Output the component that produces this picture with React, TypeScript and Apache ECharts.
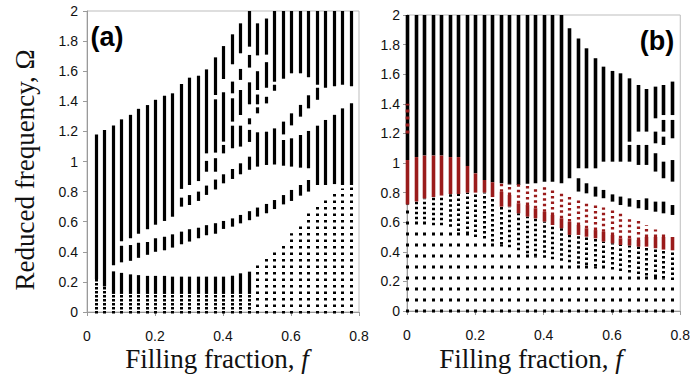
import { useEffect, useRef } from 'react';
import * as echarts from 'echarts';

// ---------- Panel (a): band segments [f, lowOmega, highOmega] ----------
const aBands: number[][] = [
  [0.025, 0.22, 1.18],
  [0.05, 0.17, 1.21],
  [0.075, 0.31, 1.24], [0.075, 0.12, 0.27],
  [0.1, 0.47, 1.28], [0.1, 0.33, 0.44], [0.1, 0.12, 0.26],
  [0.125, 0.49, 1.31], [0.125, 0.34, 0.445], [0.125, 0.12, 0.25],
  [0.15, 0.52, 1.35], [0.15, 0.36, 0.46], [0.15, 0.12, 0.245],
  [0.175, 0.55, 1.375], [0.175, 0.38, 0.465], [0.175, 0.12, 0.24],
  [0.2, 0.58, 1.41], [0.2, 0.4, 0.49], [0.2, 0.12, 0.24],
  [0.225, 0.605, 1.437], [0.225, 0.41, 0.5], [0.225, 0.12, 0.24],
  [0.25, 0.633, 1.453], [0.25, 0.428, 0.516], [0.25, 0.12, 0.235],
  [0.275, 0.818, 1.515], [0.275, 0.7, 0.76], [0.275, 0.45, 0.534], [0.275, 0.12, 0.235],
  [0.3, 0.844, 1.557], [0.3, 0.711, 0.777], [0.3, 0.468, 0.55], [0.3, 0.12, 0.235],
  [0.325, 0.87, 1.57], [0.325, 0.738, 0.8], [0.325, 0.49, 0.56], [0.325, 0.12, 0.235],
  [0.35, 1.054, 1.612], [0.35, 0.932, 1.004], [0.35, 0.778, 0.84], [0.35, 0.51, 0.577], [0.35, 0.12, 0.235],
  [0.375, 1.442, 1.692], [0.375, 1.059, 1.413], [0.375, 0.932, 1.022], [0.375, 0.814, 0.88], [0.375, 0.52, 0.59], [0.375, 0.12, 0.235],
  [0.4, 1.548, 1.767], [0.4, 1.132, 1.46], [0.4, 1.054, 1.11], [0.4, 0.855, 0.915], [0.4, 0.552, 0.605], [0.4, 0.12, 0.235],
  [0.425, 1.646, 1.845], [0.425, 1.453, 1.531], [0.425, 1.265, 1.42], [0.425, 1.088, 1.238], [0.425, 0.884, 0.95], [0.425, 0.567, 0.622], [0.425, 0.12, 0.241],
  [0.45, 1.719, 1.918], [0.45, 1.542, 1.615], [0.45, 1.309, 1.475], [0.45, 1.099, 1.238], [0.45, 0.915, 0.988], [0.45, 0.589, 0.645], [0.45, 0.12, 0.257],
  [0.475, 1.763, 2], [0.475, 1.624, 1.708], [0.475, 1.38, 1.526], [0.475, 1.247, 1.287], [0.475, 1.13, 1.21], [0.475, 0.945, 1.032], [0.475, 0.61, 0.67], [0.475, 0.12, 0.268],
  [0.5, 1.705, 1.918], [0.5, 1.475, 1.6], [0.5, 1.38, 1.445], [0.5, 1.32, 1.36], [0.5, 0.966, 1.194], [0.5, 0.634, 0.694],
  [0.525, 1.71, 1.95], [0.525, 1.49, 1.66], [0.525, 1.386, 1.43], [0.525, 0.977, 1.198], [0.525, 0.656, 0.718],
  [0.55, 1.53, 2], [0.55, 1.47, 1.51], [0.55, 0.98, 1.22], [0.55, 0.684, 0.744],
  [0.575, 1.55, 2], [0.575, 1.18, 1.265], [0.575, 0.972, 1.143], [0.575, 0.715, 0.777],
  [0.6, 1.586, 2], [0.6, 1.24, 1.32], [0.6, 0.966, 1.154], [0.6, 0.738, 0.811],
  [0.625, 1.586, 2], [0.625, 1.298, 1.376], [0.625, 0.959, 1.176], [0.625, 0.773, 0.844],
  [0.65, 1.56, 2], [0.65, 1.353, 1.44], [0.65, 0.955, 1.203], [0.65, 0.8, 0.877],
  [0.675, 1.51, 2], [0.675, 1.41, 1.49], [0.675, 0.844, 1.238],
  [0.7, 1.49, 2], [0.7, 0.844, 1.276],
  [0.725, 1.5, 2], [0.725, 0.85, 1.31],
  [0.75, 1.51, 2], [0.75, 0.844, 1.353],
  [0.775, 1.5, 2], [0.775, 0.844, 1.387],
];

// finely dotted lowest-band parts
const aFineDots: number[][] = [
  [0.025, 0, 0.22], [0.05, 0, 0.17], [0.075, 0, 0.12], [0.1, 0, 0.12], [0.125, 0, 0.12],
  [0.15, 0, 0.12], [0.175, 0, 0.12], [0.2, 0, 0.12], [0.225, 0, 0.12], [0.25, 0, 0.12],
  [0.275, 0, 0.12], [0.3, 0, 0.12], [0.325, 0, 0.12], [0.35, 0, 0.12], [0.375, 0, 0.12],
  [0.4, 0, 0.12], [0.425, 0, 0.12], [0.45, 0, 0.12], [0.475, 0, 0.12],
];

// coarser dotted lowest band at high filling fraction
const aDots: number[][] = [
  [0.5, 0, 0.312], [0.525, 0, 0.361], [0.55, 0, 0.405], [0.575, 0, 0.463],
  [0.6, 0, 0.523], [0.625, 0, 0.589], [0.65, 0, 0.656], [0.675, 0, 0.711],
  [0.7, 0, 0.75], [0.725, 0, 0.79], [0.75, 0, 0.82], [0.775, 0, 0.83],
];

// ---------- Panel (b) ----------
const bF = [0, 0.025, 0.05, 0.075, 0.1, 0.125, 0.15, 0.175, 0.2, 0.225, 0.25, 0.275, 0.3, 0.325, 0.35, 0.375,
  0.4, 0.425, 0.45, 0.475, 0.5, 0.525, 0.55, 0.575, 0.6, 0.625, 0.65, 0.675, 0.7, 0.725, 0.75, 0.775];
const bSparseTop = [0.716, 0.62, 0.62, 0.58, 0.58, 0.57, 0.54, 0.52, 0.5, 0.49, 0.47, 0.45, 0.43, 0.41, 0.39, 0.37,
  0.36, 0.35, 0.34, 0.33, 0.32, 0.31, 0.3, 0.29, 0.28, 0.27, 0.26, 0.25, 0.24, 0.23, 0.22, 0.21];
const bRedLow = [0.72, 0.74, 0.76, 0.77, 0.78, 0.79, 0.79, 0.8, 0.8, 0.8, 0.77, 0.705, 0.705, 0.66, 0.638, 0.626,
  0.604, 0.581, 0.559, 0.514, 0.514, 0.502, 0.491, 0.469, 0.457, 0.446, 0.442, 0.435, 0.435, 0.424, 0.415, 0.41];
const bRedHigh = [1.02, 1.04, 1.05, 1.05, 1.05, 1.04, 1.04, 0.98, 0.93, 0.885, 0.87, 0.806, 0.784, 0.728, 0.716, 0.694,
  0.671, 0.649, 0.626, 0.604, 0.581, 0.559, 0.547, 0.536, 0.514, 0.491, 0.491, 0.48, 0.5, 0.5, 0.5, 0.5];
const bRedDotTop = [0, 0, 0, 0, 0, 0, 0, 0, 0, 0, 0, 0.86, 0.86, 0.86, 0.85, 0.84,
  0.84, 0.83, 0.81, 0.79, 0.76, 0.74, 0.72, 0.7, 0.68, 0.66, 0.63, 0.61, 0.58, 0.55, 0.52, 0];

const bBlack: number[][] = [
  [0, 1.02, 2], [0.025, 1.04, 2], [0.05, 1.05, 2], [0.075, 1.05, 2], [0.1, 1.05, 2], [0.125, 1.04, 2],
  [0.15, 1.04, 2], [0.175, 0.98, 2], [0.2, 0.93, 2], [0.225, 0.885, 2], [0.25, 0.87, 2], [0.275, 0.863, 2],
  [0.3, 0.855, 2], [0.325, 0.851, 2], [0.35, 0.86, 2], [0.375, 0.863, 2], [0.4, 0.874, 2], [0.425, 0.874, 2],
  [0.45, 0.863, 2], [0.475, 0.897, 1.91],
  [0.5, 0.964, 1.842], [0.5, 0.807, 0.897],
  [0.525, 0.964, 1.775], [0.525, 0.795, 0.863],
  [0.55, 0.964, 1.708], [0.55, 0.773, 0.84],
  [0.575, 1.009, 1.651], [0.575, 0.762, 0.818],
  [0.6, 1.009, 1.622], [0.6, 0.739, 0.788],
  [0.625, 1.009, 1.606], [0.625, 0.716, 0.773],
  [0.65, 1.144, 1.572], [0.65, 1.009, 1.122], [0.65, 0.705, 0.761],
  [0.675, 1.212, 1.527], [0.675, 0.987, 1.122], [0.675, 0.694, 0.75],
  [0.7, 1.212, 1.5], [0.7, 0.987, 1.122], [0.7, 0.683, 0.761],
  [0.725, 1.302, 1.516], [0.725, 1.133, 1.212], [0.725, 0.942, 1.066], [0.725, 0.671, 0.739],
  [0.75, 1.324, 1.527], [0.75, 1.212, 1.291], [0.75, 1.122, 1.178], [0.75, 0.897, 1.009], [0.75, 0.66, 0.739],
  [0.775, 1.324, 1.55], [0.775, 1.167, 1.291], [0.775, 0.874, 1.02], [0.775, 0.649, 0.716],
];
const bRedOverlay: number[][] = [[0, 1.2, 1.4]];

const xTicks = { min: 0, max: 0.8, interval: 0.2 };
const yTicks = { min: 0, max: 2, interval: 0.2 };

const RED = '#9a1b1b';
const BLACK = '#000000';

function segRenderer(color: string, dash: number[] | null, width: number) {
  return (_params: any, api: any) => {
    const f = api.value(0);
    const lo = api.value(1);
    const hi = api.value(2);
    const a = api.coord([f, lo]);
    const b = api.coord([f, hi]);
    const off = dash && lo === 0 ? 1.5 : 0;
    const x = Math.round(a[0]) + 0.5;
    return {
      type: 'line',
      shape: { x1: x, y1: a[1] + off, x2: x, y2: b[1] },
      style: { stroke: color, lineWidth: width, lineDash: dash || undefined, lineCap: 'butt', fill: null },
    };
  };
}

function segSeries(data: number[][], grid: number, color: string, dash: number[] | null, width: number) {
  return {
    type: 'custom',
    xAxisIndex: grid,
    yAxisIndex: grid,
    clip: false,
    silent: true,
    renderItem: segRenderer(color, dash, width),
    encode: { x: 0, y: [1, 2] },
    data,
  };
}

export default function App() {
  const ref = useRef<HTMLDivElement>(null);
  useEffect(() => {
    if (!ref.current) return;
    const chart = echarts.init(ref.current, undefined, { renderer: 'svg' });

    const bSparse = bF.map((f, i) => [f, 0, bSparseTop[i]]);
    const bDense = bF.map((f, i) => [f, bSparseTop[i], bRedLow[i]]).filter((d) => d[2] > d[1]);
    const bRed = bF.map((f, i) => [f, bRedLow[i], bRedHigh[i]]);
    const bRedDots = bF.map((f, i) => [f, bRedHigh[i], bRedDotTop[i]]).filter((d) => d[2] > d[1]);

    const axisCommon = {
      axisLine: { show: true, lineStyle: { color: '#9a9a9a', width: 1 } },
      axisTick: { show: true, length: 4, lineStyle: { color: '#9a9a9a' } },
      splitLine: { show: false },
      axisLabel: { color: '#111', fontFamily: 'Liberation Sans, Arial, sans-serif', fontSize: 14 },
    };

    const serif = 'Liberation Serif, Times New Roman, serif';

    chart.setOption({
      animation: false,
      backgroundColor: '#ffffff',
      grid: [
        { left: 87, top: 11, width: 272, height: 301, show: true, borderColor: '#bdbdbd', borderWidth: 1, backgroundColor: 'transparent' },
        { left: 407, top: 15, width: 274, height: 296, show: true, borderColor: '#bdbdbd', borderWidth: 1, backgroundColor: 'transparent' },
      ],
      xAxis: [0, 1].map((g) => ({
        type: 'value', gridIndex: g, ...xTicks, ...axisCommon,
        axisLabel: { ...axisCommon.axisLabel, margin: 17 },
      })),
      yAxis: [0, 1].map((g) => ({
        type: 'value', gridIndex: g, ...yTicks, ...axisCommon,
        axisLabel: { ...axisCommon.axisLabel, margin: g === 0 ? 9 : 7 },
      })),
      series: [
        segSeries(aBands, 0, BLACK, null, 3.2),
        segSeries(aFineDots, 0, BLACK, [2.5, 1.5], 3),
        segSeries(aDots, 0, BLACK, [2.5, 4], 3),
        segSeries(bSparse, 1, BLACK, [3, 8], 3),
        segSeries(bDense, 1, BLACK, [2.5, 2.5], 3),
        segSeries(bBlack, 1, BLACK, null, 3.6),
        segSeries(bRed, 1, RED, null, 3.6),
        segSeries(bRedDots, 1, RED, [2.5, 3], 3.2),
        segSeries(bRedOverlay, 1, RED, [3, 4], 3.6),
      ],
      graphic: [
        {
          type: 'text', x: 25, y: 170, rotation: Math.PI / 2,
          style: { text: 'Reduced frequency, Ω', font: `27px ${serif}`, fill: '#111', align: 'center', verticalAlign: 'middle' },
        },
        {
          type: 'text', x: 217, y: 359,
          style: {
            text: 'Filling fraction, {i|f}', font: `27px ${serif}`, fill: '#111', align: 'center', verticalAlign: 'middle',
            rich: { i: { fontStyle: 'italic', fontSize: 27, fontFamily: serif } },
          },
        },
        {
          type: 'text', x: 531, y: 359,
          style: {
            text: 'Filling fraction, {i|f}', font: `27px ${serif}`, fill: '#111', align: 'center', verticalAlign: 'middle',
            rich: { i: { fontStyle: 'italic', fontSize: 27, fontFamily: serif } },
          },
        },
        {
          type: 'text', x: 107, y: 37,
          style: { text: '(a)', font: 'bold 27px Liberation Sans, Arial, sans-serif', fill: '#000', align: 'center', verticalAlign: 'middle' },
        },
        {
          type: 'text', x: 657, y: 41,
          style: { text: '(b)', font: 'bold 27px Liberation Sans, Arial, sans-serif', fill: '#000', align: 'center', verticalAlign: 'middle' },
        },
      ],
    });
    return () => chart.dispose();
  }, []);
  return <div ref={ref} style={{ position: 'fixed', left: 0, top: 0, width: 693, height: 376 }} />;
}
